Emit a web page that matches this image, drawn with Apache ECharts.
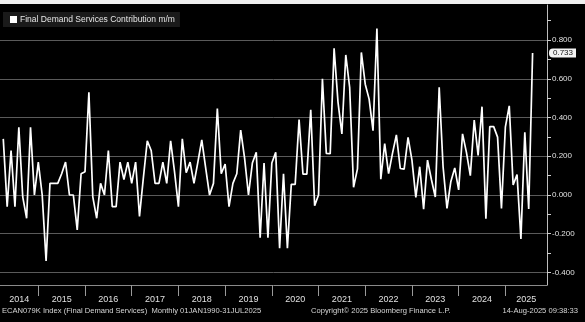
<!DOCTYPE html>
<html>
<head>
<meta charset="utf-8">
<title>Final Demand Services Contribution m/m</title>
<script src="https://cdn.jsdelivr.net/npm/echarts@6/dist/echarts.min.js"></script>
<style>
  html, body { margin: 0; padding: 0; background: #000; }
  #chart { width: 585px; height: 322px; }
</style>
</head>
<body>
<div id="chart"></div>
<script>
// Monthly readings, each dated at month end. Month index 1 = Jan 2014.
const firstMonthIndex = 3; // Mar 2014
const baseYear = 2014;
const seriesName = 'Final Demand Services Contribution m/m';

// Mar 2014 .. Jul 2025
const contribution = [
  // 2014 (Mar-Dec)
  0.29, -0.06, 0.23, -0.06, 0.35, -0.01, -0.12, 0.35, 0.00, 0.17,
  // 2015
  0.00, -0.34, 0.06, 0.06, 0.06, 0.11, 0.17, 0.00, 0.00, -0.18, 0.11, 0.12,
  // 2016
  0.53, -0.01, -0.12, 0.06, 0.00, 0.23, -0.06, -0.06, 0.17, 0.08, 0.17, 0.06,
  // 2017
  0.17, -0.11, 0.09, 0.28, 0.23, 0.06, 0.06, 0.17, 0.06, 0.28, 0.12, -0.06,
  // 2018
  0.29, 0.115, 0.17, 0.06, 0.17, 0.285, 0.14, 0.00, 0.06, 0.447, 0.11, 0.16,
  // 2019
  -0.06, 0.06, 0.11, 0.335, 0.19, 0.00, 0.165, 0.22, -0.22, 0.165, -0.22, 0.165,
  // 2020
  0.22, -0.275, 0.11, -0.275, 0.055, 0.055, 0.39, 0.108, 0.108, 0.44, -0.055, 0.00,
  // 2021
  0.60, 0.215, 0.213, 0.757, 0.48, 0.315, 0.723, 0.555, 0.04, 0.135, 0.736, 0.572,
  // 2022
  0.495, 0.332, 0.86, 0.082, 0.265, 0.11, 0.215, 0.31, 0.137, 0.134, 0.298, 0.18,
  // 2023
  -0.012, 0.146, -0.073, 0.18, 0.08, -0.01, 0.556, 0.146, -0.069, 0.07, 0.14, 0.026,
  // 2024
  0.316, 0.22, 0.10, 0.387, 0.204, 0.456, -0.122, 0.353, 0.353, 0.299, -0.069, 0.35,
  // 2025 (Jan-Jul)
  0.46, 0.052, 0.105, -0.227, 0.324, -0.072, 0.733
];

const years = [2014, 2015, 2016, 2017, 2018, 2019, 2020, 2021, 2022, 2023, 2024, 2025];
const yTickValues = [-0.4, -0.3, -0.2, -0.1, 0, 0.1, 0.2, 0.3, 0.4, 0.5, 0.6, 0.7, 0.8, 0.9];
const yLabelValues = [-0.4, -0.2, 0, 0.2, 0.4, 0.6, 0.8];

const footerLeft = 'ECAN079K Index (Final Demand Services)  Monthly 01JAN1990-31JUL2025';
const footerMid = 'Copyright\u00A9 2025 Bloomberg Finance L.P.';
const footerRight = '14-Aug-2025 09:38:33';

// ---- build series points: [month index, value]
const points = contribution.map((v, i) => [firstMonthIndex + i, v]);
const lastValue = contribution[contribution.length - 1];

// ---- axis extents
const xMin = 2.16, xMax = 142.7;
const yMin = -0.4646, yMax = 0.981;

// year boundaries (month index at each Jan 1) and centred year labels
const yearBounds = years.slice(1).map(y => (y - baseYear) * 12);
const yearLabelPos = years.map(y => {
  const a = Math.max((y - baseYear) * 12, xMin);
  const b = Math.min((y - baseYear + 1) * 12, xMax);
  return (a + b) / 2;
});

const FONT = '"Liberation Sans", Arial, sans-serif';

const chart = echarts.init(document.getElementById('chart'), null, { renderer: 'canvas' });

chart.setOption({
  backgroundColor: '#000',
  animation: false,
  grid: { left: 0, right: 38, top: 5, bottom: 37, containLabel: false },
  legend: {
    data: [seriesName],
    left: 3,
    top: 12,
    padding: [3, 5, 3, 7],
    backgroundColor: '#1a1a1a',
    icon: 'rect',
    itemWidth: 7,
    itemHeight: 7,
    itemGap: 4,
    selectedMode: false,
    textStyle: { color: '#e6e6e6', fontSize: 8.5, fontFamily: FONT, padding: [0, 0, 0, -2] }
  },
  xAxis: {
    type: 'value',
    min: xMin,
    max: xMax,
    axisLine: { show: true, onZero: false, lineStyle: { color: '#8a8a8a', width: 1 } },
    axisTick: { show: true, customValues: yearBounds, length: 11, lineStyle: { color: '#9a9a9a', width: 1 } },
    splitLine: { show: false },
    axisLabel: {
      customValues: yearLabelPos,
      formatter: v => String(baseYear + Math.floor(v / 12)),
      color: '#e0e0e0',
      fontSize: 9,
      fontFamily: FONT,
      margin: 10
    }
  },
  yAxis: [
    {
      // ticks at every 0.1, labels at every 0.2
      type: 'value',
      position: 'right',
      min: yMin,
      max: yMax,
      axisLine: { show: true, lineStyle: { color: '#bdbdbd', width: 1 } },
      axisTick: { show: true, customValues: yTickValues, length: 4, lineStyle: { color: '#cfcfcf' } },
      splitLine: { show: false },
      axisLabel: {
        customValues: yLabelValues,
        formatter: v => v.toFixed(3),
        color: '#e0e0e0',
        fontSize: 8,
        fontFamily: FONT,
        margin: 5
      }
    },
    {
      // horizontal grid lines
      type: 'value',
      position: 'right',
      min: yMin,
      max: yMax,
      axisLine: { show: false },
      axisTick: { show: false, customValues: yLabelValues },
      axisLabel: { show: false },
      splitLine: { show: true, lineStyle: { color: '#5a5a5a', width: 1 } }
    },
    {
      // tag showing the latest value
      type: 'value',
      position: 'right',
      min: yMin,
      max: yMax,
      axisLine: { show: false },
      axisTick: { show: false },
      splitLine: { show: false },
      axisLabel: {
        customValues: [lastValue],
        formatter: v => v.toFixed(3),
        color: '#111',
        backgroundColor: '#f4f4f4',
        borderRadius: [4, 0, 0, 4],
        padding: [1, 3, 0, 4],
        fontSize: 8,
        fontFamily: FONT,
        margin: 2
      }
    }
  ],
  series: [
    {
      name: seriesName,
      type: 'line',
      yAxisIndex: 0,
      data: points,
      showSymbol: false,
      symbol: 'none',
      clip: true,
      itemStyle: { color: '#ffffff' },
      lineStyle: { color: '#ffffff', width: 1.7 },
      emphasis: { disabled: true }
    }
  ],
  graphic: [
    { type: 'rect', left: 0, top: 0, shape: { width: 585, height: 4 }, style: { fill: '#f0f0f0' }, silent: true },
    { type: 'text', left: 2, top: 307, style: { text: footerLeft, fill: '#d6d6d6', font: '7.6px ' + FONT } },
    { type: 'text', left: 311, top: 307, style: { text: footerMid, fill: '#d6d6d6', font: '7.6px ' + FONT } },
    { type: 'text', right: 7, top: 307, style: { text: footerRight, fill: '#d6d6d6', font: '7.6px ' + FONT } }
  ]
});
</script>
</body>
</html>
